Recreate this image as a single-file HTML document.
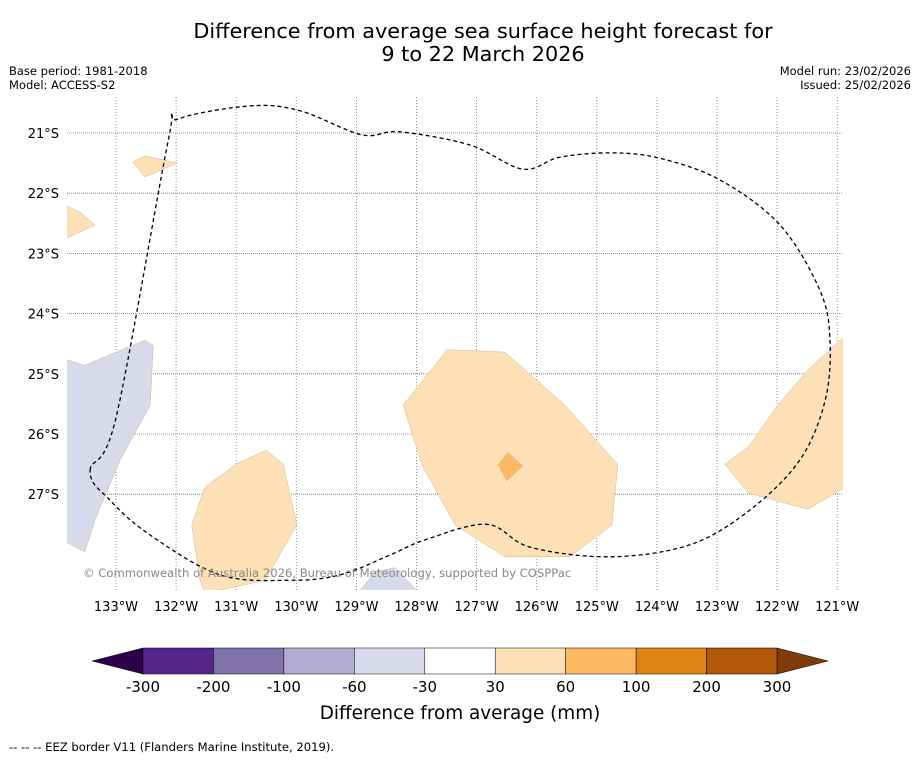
<!DOCTYPE html>
<html><head><meta charset="utf-8">
<style>
body{margin:0;background:#fff;font-family:"Liberation Sans","DejaVu Sans",sans-serif;}
svg text{font-family:"DejaVu Sans","Liberation Sans",sans-serif;}
</style></head>
<body>
<svg id="chart" width="919" height="758" viewBox="0 0 919 758" xmlns="http://www.w3.org/2000/svg">
<rect width="919" height="758" fill="#fff"/>
<text x="483" y="38" text-anchor="middle" font-size="20.8">Difference from average sea surface height forecast for</text>
<text x="483" y="61" text-anchor="middle" font-size="20.8">9 to 22 March 2026</text>
<text x="9" y="75" font-size="11.5">Base period: 1981-2018</text>
<text x="9" y="89" font-size="11.5">Model: ACCESS-S2</text>
<text x="911" y="75" font-size="11.5" text-anchor="end">Model run: 23/02/2026</text>
<text x="911" y="89" font-size="11.5" text-anchor="end">Issued: 25/02/2026</text>
<defs><clipPath id="mapclip"><rect x="67" y="97" width="776" height="493"/></clipPath></defs>
<g id="grid"></g>
<g id="shapes" clip-path="url(#mapclip)"></g>
<g id="eez" clip-path="url(#mapclip)"></g>
<g id="axes"></g>
<text x="83" y="577" font-size="11.6" fill="#888">© Commonwealth of Australia 2026, Bureau of Meteorology, supported by COSPPac</text>
<g id="cbar"></g>
<text x="460" y="719" text-anchor="middle" font-size="18.4">Difference from average (mm)</text>
<text x="9" y="751" font-size="11.6">--  --  -- EEZ border V11 (Flanders Marine Institute, 2019).</text>
</svg>
<script>
const lonTicks=[133,132,131,130,129,128,127,126,125,124,123,122,121];
const latTicks=[21,22,23,24,25,26,27];
const cbLevels=[-300,-200,-100,-60,-30,30,60,100,200,300];
const cbColors=["#542788","#8073ac","#b2abd2","#d8daeb","#ffffff","#fee0b6","#fdb863","#e08214","#b35806"];
const cbLow="#2d004b", cbHigh="#7f3b08";
const regionLevels=[5,6,5,5,5,5,3,3];
const regionPoints=[
 [[127.49,24.60],[126.53,24.64],[125.53,25.52],[124.65,26.51],[124.75,27.51],[125.45,28.04],[126.53,28.04],[127.36,27.51],[127.91,26.51],[128.22,25.52]],
 [[126.64,26.51],[126.48,26.31],[126.23,26.53],[126.50,26.78]],
 [[120.80,24.30],[120.80,26.85],[121.49,27.25],[122.48,26.98],[122.87,26.50],[122.48,26.22],[121.99,25.52],[121.49,24.94]],
 [[131.74,27.51],[131.52,26.88],[130.97,26.48],[130.50,26.27],[130.22,26.50],[129.99,27.51],[130.52,28.43],[131.52,28.65],[131.60,28.43]],
 [[132.72,21.48],[132.52,21.38],[131.97,21.50],[132.52,21.73]],
 [[133.90,22.18],[133.60,22.31],[133.35,22.53],[133.90,22.78]],
 [[133.90,24.74],[133.52,24.86],[132.52,24.44],[132.38,24.53],[132.43,25.52],[132.93,26.43],[133.35,27.43],[133.52,27.96],[133.90,27.76]],
 [[129.02,28.70],[128.69,28.29],[128.36,28.22],[127.90,28.70]]
];
const eezLon=[133.43,133.0,132.13,131.97,130.77,129.94,128.91,128.28,127.11,126.23,125.61,124.75,123.95,122.95,121.95,121.29,121.12,121.20,121.62,122.45,123.45,124.78,126.11,126.83,127.86,128.44,129.27,130.10,131.27,132.43,133.10,133.43];
const eezLat=[26.60,25.73,21.12,20.77,20.55,20.63,21.03,20.98,21.20,21.60,21.40,21.33,21.42,21.78,22.53,23.61,24.44,25.44,26.43,27.26,27.84,28.04,27.88,27.50,27.76,28.01,28.34,28.43,28.34,27.68,27.10,26.60];
const NS="http://www.w3.org/2000/svg";
const X=l=>116+(133-l)*60.1, Y=l=>133+(l-21)*60.2;
function mk(t,a,p){const e=document.createElementNS(NS,t);for(const k in a)e.setAttribute(k,a[k]);p.appendChild(e);return e;}
const grid=document.getElementById('grid'),axes=document.getElementById('axes');
lonTicks.forEach(l=>{
 const ln=mk('line',{x1:X(l),x2:X(l),y1:97,y2:590,stroke:'#777','stroke-width':0.8,'stroke-dasharray':'1,2'},grid);
 
 
 const t=mk('text',{x:X(l),y:611,'text-anchor':'middle','font-size':13},axes);t.textContent=l+'°W';
 
 
});
latTicks.forEach(l=>{
 const ln=mk('line',{x1:67,x2:843,y1:Y(l),y2:Y(l),stroke:'#777','stroke-width':0.8,'stroke-dasharray':'1,1'},grid);
 
 
 const t=mk('text',{x:59,y:Y(l)+5,'text-anchor':'end','font-size':13},axes);t.textContent=l+'°S';
 
 
});
const sh=document.getElementById('shapes');
regionPoints.forEach((pts,i)=>{
 const p=mk('polygon',{points:pts.map(q=>X(q[0])+','+Y(q[1])).join(' '),fill:cbColors[regionLevels[i]],stroke:'#c9a27a','stroke-width':0.4},sh);
 
 
});
// smooth closed curve through EEZ points (Catmull-Rom)
const P=eezLon.slice(0,-1).map((l,i)=>[X(l),Y(eezLat[i])]);
const m=P.length;let d=`M${P[0][0]},${P[0][1]}`;
for(let i=0;i<m;i++){
 const p0=P[(i-1+m)%m],p1=P[i],p2=P[(i+1)%m],p3=P[(i+2)%m];
 d+=` C${p1[0]+(p2[0]-p0[0])/6},${p1[1]+(p2[1]-p0[1])/6} ${p2[0]-(p3[0]-p1[0])/6},${p2[1]-(p3[1]-p1[1])/6} ${p2[0]},${p2[1]}`;
}
const e=mk('path',{d:d,fill:'none',stroke:'#000','stroke-width':1.3,'stroke-dasharray':'4,3'},document.getElementById('eez'));


const cb=document.getElementById('cbar');
const cx0=143,cx1=777,cy=648,ch=26,n=cbColors.length,w=(cx1-cx0)/n;
const lo=mk('polygon',{points:`${cx0},${cy} 92,${cy+ch/2} ${cx0},${cy+ch}`,fill:cbLow,stroke:'#000','stroke-width':0.5},cb);


const hi=mk('polygon',{points:`${cx1},${cy} 828,${cy+ch/2} ${cx1},${cy+ch}`,fill:cbHigh,stroke:'#000','stroke-width':0.5},cb);


cbColors.forEach((c,i)=>{
 const r=mk('rect',{x:cx0+i*w,y:cy,width:w,height:ch,fill:c,stroke:'#000','stroke-width':0.5},cb);
 
 
});
cbLevels.forEach((v,i)=>{
 const t=mk('text',{x:cx0+i*w,y:692,'text-anchor':'middle','font-size':15},cb);t.textContent=v;
 
 
});
</script>
</body></html>
